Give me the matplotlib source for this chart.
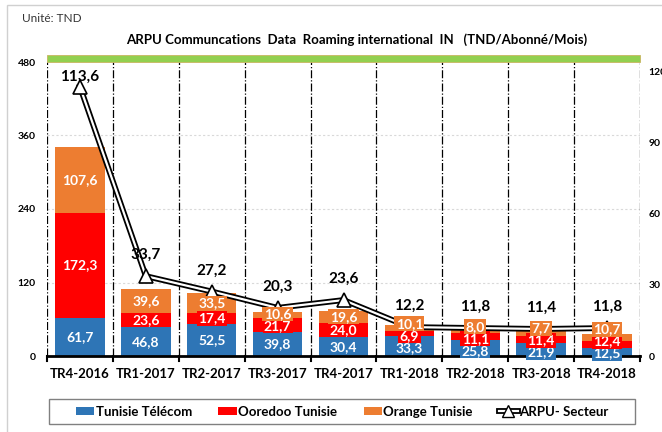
import matplotlib

matplotlib.use("Agg")
import matplotlib.pyplot as plt
from matplotlib.lines import Line2D
from matplotlib.patches import Patch, Rectangle

plt.rcParams["font.family"] = ["Lato", "DejaVu Sans"]

QUARTERS = ["TR4-2016", "TR1-2017", "TR2-2017", "TR3-2017", "TR4-2017",
            "TR1-2018", "TR2-2018", "TR3-2018", "TR4-2018"]
TUNISIE_TELECOM = [61.7, 46.8, 52.5, 39.8, 30.4, 33.3, 25.8, 21.9, 12.5]
OOREDOO = [172.3, 23.6, 17.4, 21.7, 24.0, 6.9, 11.1, 11.4, 12.4]
ORANGE = [107.6, 39.6, 33.5, 10.6, 19.6, 10.1, 8.0, 7.7, 10.7]
ARPU_SECTEUR = [113.6, 33.7, 27.2, 20.3, 23.6, 12.2, 11.8, 11.4, 11.8]
LEFT_TICKS = [0, 120, 240, 360, 480]
RIGHT_TICKS = [0, 30, 60, 90, 120]

BLUE = "#2E75B6"
RED = "#FF0000"
ORANGE_C = "#ED7D31"
GREEN = "#92D050"

LEFT_MAX = 480
RIGHT_MAX = 124
PLOT_H_PX = 294


def fmt(v):
    return f"{v:.1f}".replace(".", ",")


def spread(centers, gap, floor):
    # push stacked labels apart so they do not overlap (like the Excel labels)
    ys = list(centers)
    for _ in range(200):
        ys[0] = max(ys[0], floor)
        for j in range(len(ys) - 1):
            d = ys[j + 1] - ys[j]
            if d < gap:
                ys[j] -= (gap - d) / 2
                ys[j + 1] += (gap - d) / 2
    ys[0] = max(ys[0], floor)
    for j in range(len(ys) - 1):
        ys[j + 1] = max(ys[j + 1], ys[j] + gap * 0.98)
    return ys


fig = plt.figure(figsize=(6.62, 4.32), dpi=100)
fig.patches.append(Rectangle((7 / 662, -0.1), 1.2, 1.1 - 5 / 432, transform=fig.transFigure,
                             fill=False, edgecolor="#d0d0d0", linewidth=1.0))
ax = fig.add_axes([47 / 662, 76 / 432, 593 / 662, PLOT_H_PX / 432])
x = list(range(len(QUARTERS)))

series = [(TUNISIE_TELECOM, BLUE), (OOREDOO, RED), (ORANGE, ORANGE_C)]
bottoms = [0.0] * len(x)
seg_centers = [[] for _ in x]
for values, color in series:
    ax.bar(x, values, width=0.75, bottom=bottoms, color=color, zorder=2)
    for i, v in enumerate(values):
        seg_centers[i].append(bottoms[i] + v / 2)
    bottoms = [b + v for b, v in zip(bottoms, values)]

ax.set_xlim(-0.5, len(x) - 0.5)
ax.set_ylim(0, LEFT_MAX)
ax.set_yticks(LEFT_TICKS)
ax.set_xticks(x)
ax.set_xticklabels(QUARTERS, fontweight="bold", fontsize=9.5)
ax.tick_params(axis="x", length=0, pad=9)
ax.tick_params(axis="y", length=0, pad=8, labelsize=7.5)
for lbl in ax.get_yticklabels():
    lbl.set_fontweight("bold")
for s in ["top", "left", "right"]:
    ax.spines[s].set_visible(False)
ax.spines["bottom"].set_linewidth(2)
for yv in LEFT_TICKS[1:-1]:
    ax.axhline(yv, color="#d9d9d9", linestyle=(0, (2, 2)), linewidth=0.8, zorder=1)
for b in range(len(x) + 1):
    ax.axvline(b - 0.5, color="black", linestyle="-.", linewidth=0.9, zorder=1)
    ax.plot([b - 0.5, b - 0.5], [0, -8], color="black", linewidth=1.5, clip_on=False)
ax.add_patch(Rectangle((0, 1.0), 1, 0.025, transform=ax.transAxes, facecolor=GREEN,
                       edgecolor="#c8b560", linewidth=0.6, clip_on=False))

ax2 = ax.twinx()
ax2.set_ylim(0, RIGHT_MAX)
ax2.set_yticks(RIGHT_TICKS)
ax2.tick_params(axis="y", length=0, pad=6, labelsize=7.5)
for lbl in ax2.get_yticklabels():
    lbl.set_fontweight("bold")
for s in ["top", "left", "right", "bottom"]:
    ax2.spines[s].set_visible(False)
ax2.plot(x, ARPU_SECTEUR, color="black", linewidth=4.2, zorder=5)
ax2.plot(x, ARPU_SECTEUR, color="white", linewidth=1.6, marker="^", markersize=10,
         markerfacecolor="white", markeredgecolor="black", markeredgewidth=1.2, zorder=6)

# ARPU labels: ~21 px above the point, kept inside the plot area
lift = 21 * RIGHT_MAX / PLOT_H_PX
for i, v in enumerate(ARPU_SECTEUR):
    ax2.text(i, min(v + lift, 0.95 * RIGHT_MAX), fmt(v), ha="center", va="center",
             fontsize=11, fontweight="bold", color="black", zorder=8)

# bar segment labels drawn above the ARPU line
gap = 12 * LEFT_MAX / PLOT_H_PX
floor = 4.0
for i in x:
    ys = spread(seg_centers[i], gap, floor)
    for (values, color), y in zip(series, ys):
        ax2.text(i, y, fmt(values[i]), transform=ax.transData, ha="center", va="center",
                 color="white", fontsize=10, fontweight="bold", zorder=7,
                 bbox=dict(boxstyle="square,pad=0.1", facecolor=color, edgecolor="none"))

fig.text(22 / 662, 1 - 18 / 432, "Unité: TND", fontsize=8.5, va="center", color="#333333")
fig.text(357 / 662, 1 - 40 / 432,
         "ARPU Communcations  Data  Roaming international  IN   (TND/Abonné/Mois)",
         fontsize=9.5, fontweight="bold", ha="center", va="center")

handles = [
    Patch(facecolor=BLUE),
    Patch(facecolor=RED),
    Patch(facecolor=ORANGE_C),
    (Line2D([], [], color="black", linewidth=4.2),
     Line2D([], [], color="white", linewidth=1.6, marker="^", markersize=8,
            markerfacecolor="white", markeredgecolor="black")),
]
labels = ["Tunisie Télécom", "Ooredoo Tunisie", "Orange Tunisie", "ARPU- Secteur"]
fig.legend(handles, labels, ncol=4, loc="center", bbox_to_anchor=(342 / 662, 1 - 411.5 / 432),
           frameon=False, prop={"size": 9.5, "weight": "bold"},
           handlelength=1.4, handleheight=0.6, handletextpad=0.1, columnspacing=2.0)
fig.patches.append(Rectangle((49 / 662, 1 - 424 / 432), 586 / 662, 25 / 432,
                             transform=fig.transFigure, fill=False,
                             edgecolor="#808080", linewidth=1.0))

fig.savefig("out.png", dpi=100)
